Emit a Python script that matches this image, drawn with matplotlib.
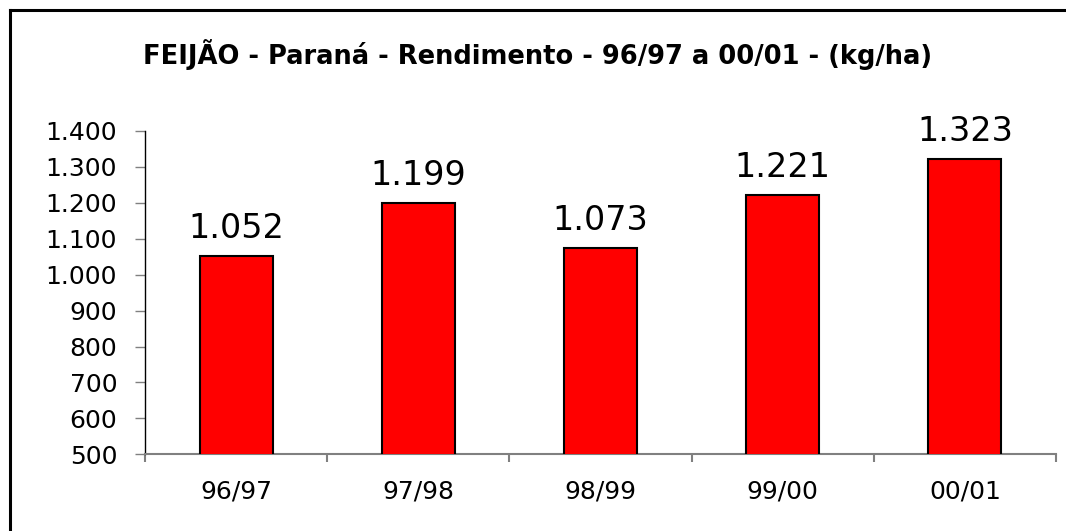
import matplotlib
matplotlib.use("Agg")
import matplotlib.pyplot as plt
from matplotlib.ticker import FuncFormatter, FixedLocator
from matplotlib.lines import Line2D

categories = ["96/97", "97/98", "98/99", "99/00", "00/01"]
values = [1052, 1199, 1073, 1221, 1323]
title = "FEIJÃO - Paraná - Rendimento - 96/97 a 00/01 - (kg/ha)"

def fmt(v):
    return f"{v:,.0f}".replace(",", ".")

fig = plt.figure(figsize=(10.66, 5.31), dpi=100)
ax = fig.add_axes([145/1066, 1-454.3/531, (1056-145)/1066, (454.3-131)/531])

x = list(range(len(categories)))
ax.bar(x, values, width=0.40, color="#FF0000", edgecolor="black", linewidth=1.5,
       bottom=0, zorder=3)
ax.set_ylim(500, 1400)
ax.set_xlim(-0.5, len(categories) - 0.5)

for xi, v in zip(x, values):
    ax.annotate(fmt(v), (xi, v), xytext=(0, 13), textcoords="offset points",
                ha="center", va="baseline", fontsize=24, family="DejaVu Sans")

ax.yaxis.set_major_locator(FixedLocator(list(range(500, 1401, 100))))
ax.yaxis.set_major_formatter(FuncFormatter(lambda v, p: fmt(v)))
ax.xaxis.set_major_locator(FixedLocator([i - 0.5 for i in range(len(categories) + 1)]))
ax.xaxis.set_major_formatter(FuncFormatter(lambda v, p: ""))
ax.set_xticks(x, minor=True)
ax.set_xticklabels(categories, minor=True)

ax.tick_params(axis="y", direction="out", length=7, width=1, color="#808080",
               labelsize=18, pad=13)
ax.tick_params(axis="x", which="major", direction="out", length=6, width=1.5, color="#808080")
ax.tick_params(axis="x", which="minor", length=0, labelsize=18, pad=18)

for s in ["top", "right"]:
    ax.spines[s].set_visible(False)
ax.spines["left"].set_color("black")
ax.spines["left"].set_linewidth(1)
ax.spines["bottom"].set_color("#808080")
ax.spines["bottom"].set_linewidth(1.5)

fig.text(538/1066, 1-55/531, title, ha="center", va="center", fontsize=18.5,
         fontweight="bold", family="DejaVu Sans")

bx, by = 10/1066, 1 - 10/531
fig.add_artist(Line2D([bx, bx], [0, by], transform=fig.transFigure, color="black", linewidth=2.2))
fig.add_artist(Line2D([bx, 1], [by, by], transform=fig.transFigure, color="black", linewidth=2.2))

fig.savefig("out.png", dpi=100)
